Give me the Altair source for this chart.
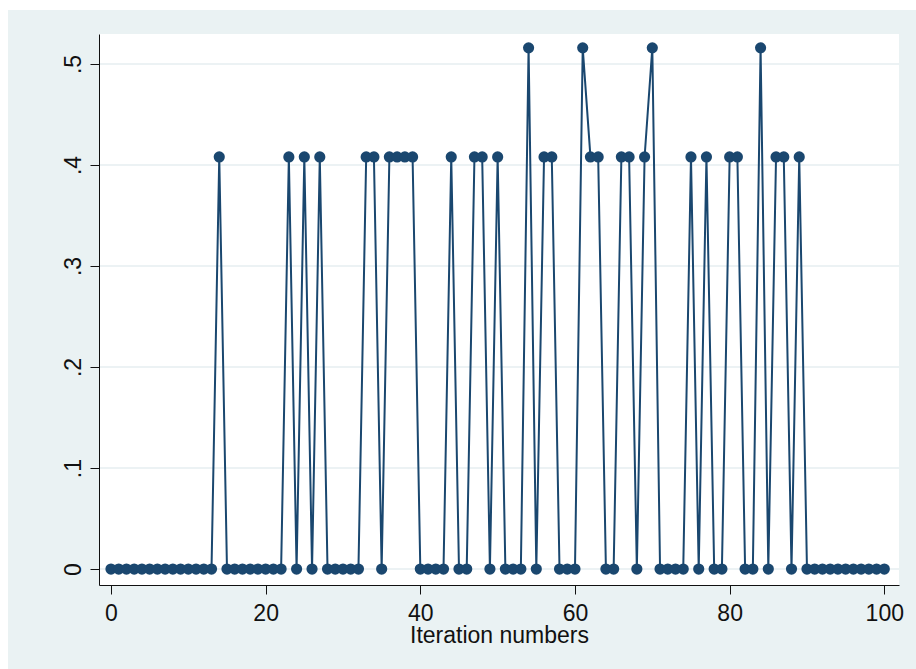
import altair as alt
import pandas as pd

# Iteration index and the value recorded at each iteration
iterations = list(range(101))
values = [
    0, 0, 0, 0, 0, 0, 0, 0, 0, 0,
    0, 0, 0, 0, .408, 0, 0, 0, 0, 0,
    0, 0, 0, .408, 0, .408, 0, .408, 0, 0,
    0, 0, 0, .408, .408, 0, .408, .408, .408, .408,
    0, 0, 0, 0, .408, 0, 0, .408, .408, 0,
    .408, 0, 0, 0, .516, 0, .408, .408, 0, 0,
    0, .516, .408, .408, 0, 0, .408, .408, 0, .408,
    .516, 0, 0, 0, 0, .408, 0, .408, 0, 0,
    .408, .408, 0, 0, .516, 0, .408, .408, 0, .408,
    0, 0, 0, 0, 0, 0, 0, 0, 0, 0, 0,
]
y_ticks = [0, 0.1, 0.2, 0.3, 0.4, 0.5]
x_ticks = [0, 20, 40, 60, 80, 100]

REGION = "#EAF2F3"
GRID = "#E6EEF1"
NAVY = "#1A476F"
INK = "#111111"
FONT = "Liberation Sans"

df = pd.DataFrame({"iteration": iterations, "value": values})
grid_df = pd.DataFrame({"level": y_ticks})
panel_df = pd.DataFrame({"k": [0]})

x_scale = alt.Scale(domain=[-1.55, 101.9], nice=False, zero=False)
y_scale = alt.Scale(domain=[-0.0158, 0.5297], nice=False, zero=False)

x_axis = alt.Axis(
    values=x_ticks, title="Iteration numbers", grid=False,
    domainColor=INK, domainWidth=1, tickColor=INK, tickWidth=1, tickSize=9,
    labelFont=FONT, labelFontSize=23, labelColor=INK, labelPadding=8,
    labelFlush=False, labelOverlap=False,
    titleFont=FONT, titleFontSize=23, titleFontWeight="normal", titleColor=INK,
    titleY=57, titleBaseline="alphabetic", zindex=1,
)
y_axis = alt.Axis(
    values=y_ticks, title=None, grid=False,
    labelExpr="datum.value == 0 ? '0' : replace(format(datum.value, '.1f'), '0.', '.')",
    domainColor=INK, domainWidth=1, tickColor=INK, tickWidth=1, tickSize=9,
    labelFont=FONT, labelFontSize=23, labelColor=INK, labelPadding=10,
    labelAngle=270, labelAlign="center", labelBaseline="alphabetic",
    labelFlush=False, labelOverlap=False, zindex=1,
)

x_enc = alt.X("iteration:Q", scale=x_scale, axis=x_axis)
y_val = alt.Y("value:Q", scale=y_scale, axis=y_axis)

# Graph region (light bluish panel) and the white plot region on top of it
region = alt.Chart(panel_df).mark_rect(color=REGION).encode(
    x=alt.value(-91), x2=alt.value(817), y=alt.value(-24), y2=alt.value(635)
)
plot_region = alt.Chart(panel_df).mark_rect(color="white").encode(
    x=alt.value(0), x2=alt.value(800), y=alt.value(0), y2=alt.value(551)
)

gridlines = alt.Chart(grid_df).mark_rule(color=GRID, strokeWidth=1.5).encode(
    y=alt.Y("level:Q", scale=y_scale, axis=y_axis)
)

line = alt.Chart(df).mark_line(color=NAVY, strokeWidth=2).encode(x=x_enc, y=y_val)
points = alt.Chart(df).mark_circle(color=NAVY, size=125, opacity=1).encode(x=x_enc, y=y_val)

chart = alt.layer(region, plot_region, gridlines, line, points).properties(
    width=800,
    height=551,
    padding={"left": 99, "top": 34, "right": 17, "bottom": 84},
    autosize=alt.AutoSizeParams(type="none"),
    background="white",
).configure_view(stroke=None)

chart.save("out.html", embed_options={"renderer": "svg", "actions": False})
